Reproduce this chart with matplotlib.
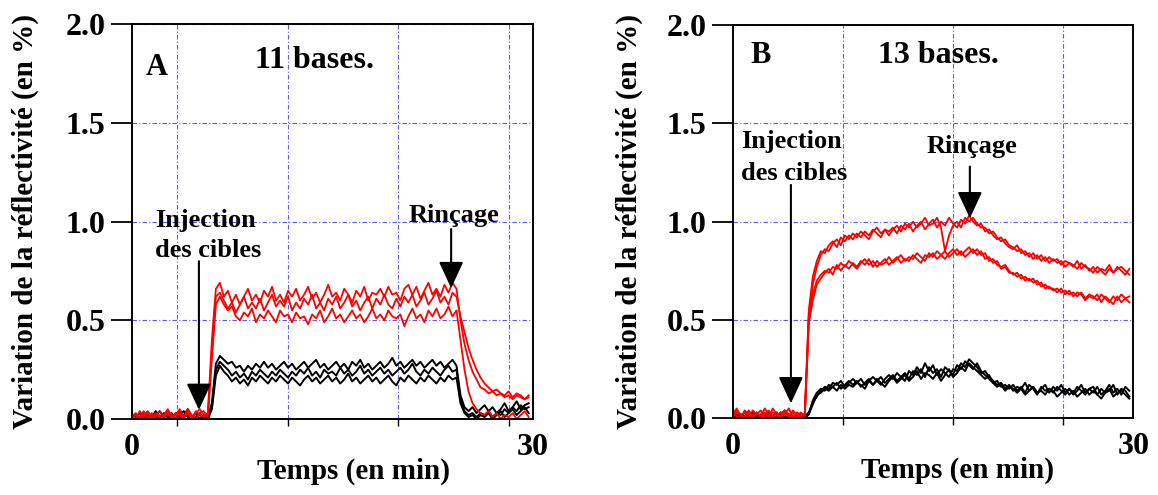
import numpy as np
import matplotlib
matplotlib.use("Agg")
import matplotlib.pyplot as plt

plt.rcParams['font.family'] = ['Liberation Serif', 'DejaVu Serif']
plt.rcParams['font.weight'] = 'bold'

# sampling time of the traces (min), one value every 0.3 min
time_a = np.arange(100) * 0.3
time_b = np.arange(100) * 0.3

# Panel A (11 bases) - red = complementary targets, black = non complementary
a_red_1 = [0.01, 0.03, 0.00, 0.02, 0.04, 0.01, 0.03, 0.00, 0.02, 0.05, 0.01, 0.03, 0.02, 0.00, 0.04, 0.01, 0.03, 0.05, 0.02,
           0.03, 0.40, 0.66, 0.69,
           0.62, 0.65, 0.59, 0.63, 0.58, 0.62, 0.66, 0.60, 0.63, 0.59,
           0.65, 0.62, 0.67, 0.60, 0.63, 0.59, 0.65, 0.62, 0.66, 0.60,
           0.63, 0.67, 0.61, 0.64, 0.59, 0.63, 0.68, 0.62, 0.64, 0.60,
           0.66, 0.63, 0.59, 0.65, 0.62, 0.67, 0.60, 0.64, 0.63, 0.66,
           0.62, 0.67, 0.63, 0.64, 0.60, 0.66, 0.68, 0.63, 0.67, 0.61,
           0.65, 0.69, 0.63, 0.66, 0.62, 0.68, 0.64, 0.69,
           0.66, 0.50, 0.38, 0.30, 0.24, 0.20, 0.16, 0.15, 0.13, 0.14, 0.12, 0.13, 0.11, 0.12, 0.10, 0.12, 0.11, 0.10, 0.12]
a_red_2 = [0.02, 0.00, 0.04, 0.01, 0.03, 0.00, 0.02, 0.04, 0.01, 0.03, 0.00, 0.02, 0.05, 0.01, 0.03, 0.00, 0.04, 0.02, 0.01,
           0.02, 0.35, 0.62, 0.64,
           0.60, 0.56, 0.59, 0.54, 0.58, 0.62, 0.56, 0.59, 0.56, 0.61,
           0.55, 0.59, 0.63, 0.57, 0.60, 0.57, 0.62, 0.55, 0.59, 0.56,
           0.61, 0.58, 0.63, 0.56, 0.59, 0.55, 0.61, 0.58, 0.62, 0.56,
           0.59, 0.63, 0.57, 0.60, 0.55, 0.59, 0.62, 0.56, 0.61, 0.58,
           0.63, 0.58, 0.56, 0.61, 0.57, 0.62, 0.59, 0.63, 0.57, 0.60,
           0.64, 0.58, 0.61, 0.65, 0.59, 0.62, 0.58, 0.64,
           0.62, 0.52, 0.44, 0.36, 0.30, 0.25, 0.21, 0.18, 0.16, 0.14, 0.15, 0.13, 0.12, 0.14, 0.11, 0.13, 0.12, 0.10, 0.11]
a_red_3 = [0.00, 0.02, 0.01, 0.04, 0.00, 0.03, 0.01, 0.02, 0.00, 0.04, 0.02, 0.00, 0.03, 0.01, 0.05, 0.02, 0.00, 0.03, 0.04,
           0.01, 0.30, 0.58, 0.62,
           0.58, 0.55, 0.57, 0.52, 0.50, 0.54, 0.52, 0.56, 0.49, 0.53,
           0.51, 0.55, 0.52, 0.49, 0.55, 0.52, 0.53, 0.49, 0.54, 0.51,
           0.52, 0.48, 0.53, 0.51, 0.55, 0.49, 0.52, 0.56, 0.51, 0.53,
           0.49, 0.52, 0.55, 0.51, 0.53, 0.49, 0.52, 0.56, 0.51, 0.53,
           0.50, 0.55, 0.52, 0.51, 0.53, 0.47, 0.52, 0.56, 0.51, 0.53,
           0.49, 0.55, 0.52, 0.56, 0.51, 0.53, 0.57, 0.52,
           0.55, 0.40, 0.25, 0.14, 0.08, 0.05, 0.03, 0.02, 0.04, 0.01, 0.03, 0.00, 0.02, 0.01, 0.03, 0.00, 0.02, 0.04, 0.01]
a_black_1 = [0.01, 0.02, 0.00, 0.03, 0.01, 0.00, 0.02, 0.04, 0.01, 0.02, 0.00, 0.03, 0.01, 0.02, 0.05, 0.01, 0.03, 0.00, 0.02,
             0.01, 0.08, 0.28, 0.32,
             0.30, 0.28, 0.29, 0.26, 0.27, 0.24, 0.27, 0.25, 0.28, 0.26,
             0.29, 0.26, 0.28, 0.25, 0.27, 0.29, 0.26, 0.28, 0.25, 0.27,
             0.29, 0.26, 0.28, 0.30, 0.26, 0.28, 0.25, 0.27, 0.29, 0.26,
             0.28, 0.25, 0.29, 0.27, 0.30, 0.26, 0.28, 0.25, 0.27, 0.29,
             0.26, 0.28, 0.31, 0.27, 0.29, 0.26, 0.28, 0.30, 0.27, 0.29,
             0.26, 0.28, 0.30, 0.27, 0.29, 0.26, 0.28, 0.30,
             0.27, 0.12, 0.06, 0.04, 0.06, 0.03, 0.05, 0.07, 0.04, 0.06, 0.03, 0.05, 0.08, 0.04, 0.06, 0.09, 0.05, 0.07, 0.08]
a_black_2 = [0.00, 0.01, 0.03, 0.00, 0.02, 0.01, 0.04, 0.00, 0.02, 0.01, 0.03, 0.00, 0.02, 0.04, 0.01, 0.00, 0.03, 0.02, 0.01,
             0.00, 0.06, 0.25, 0.29,
             0.27, 0.25, 0.22, 0.24, 0.21, 0.23, 0.20, 0.24, 0.22, 0.25,
             0.23, 0.21, 0.24, 0.22, 0.25, 0.23, 0.21, 0.24, 0.22, 0.25,
             0.23, 0.26, 0.22, 0.24, 0.21, 0.25, 0.23, 0.24, 0.22, 0.26,
             0.23, 0.25, 0.22, 0.24, 0.27, 0.23, 0.25, 0.22, 0.24, 0.26,
             0.23, 0.25, 0.22, 0.24, 0.26, 0.23, 0.25, 0.28, 0.24, 0.22,
             0.25, 0.23, 0.26, 0.24, 0.22, 0.25, 0.27, 0.24,
             0.25, 0.10, 0.04, 0.02, 0.03, 0.01, 0.03, 0.02, 0.04, 0.01, 0.03, 0.02, 0.05, 0.03, 0.06, 0.04, 0.07, 0.05, 0.06]
a_black_3 = [0.02, 0.00, 0.01, 0.03, 0.00, 0.02, 0.01, 0.00, 0.03, 0.01, 0.02, 0.00, 0.04, 0.01, 0.02, 0.00, 0.01, 0.03, 0.00,
             0.00, 0.05, 0.22, 0.27,
             0.24, 0.22, 0.19, 0.21, 0.18, 0.20, 0.17, 0.21, 0.19, 0.22,
             0.20, 0.18, 0.21, 0.19, 0.22, 0.20, 0.18, 0.21, 0.19, 0.17,
             0.20, 0.22, 0.19, 0.21, 0.18, 0.20, 0.22, 0.19, 0.21, 0.18,
             0.20, 0.23, 0.19, 0.21, 0.18, 0.20, 0.22, 0.19, 0.21, 0.18,
             0.20, 0.22, 0.19, 0.17, 0.21, 0.19, 0.22, 0.20, 0.18, 0.21,
             0.19, 0.22, 0.20, 0.18, 0.21, 0.19, 0.22, 0.20,
             0.21, 0.08, 0.03, 0.01, 0.02, 0.00, 0.02, 0.01, 0.03, 0.00, 0.02, 0.04, 0.01, 0.03, 0.05, 0.02, 0.04, 0.06, 0.03]

# Panel B (13 bases)
b_red_1 = [0.02, 0.05, 0.01, 0.03, 0.00, 0.04, 0.02, 0.01, 0.03, 0.00, 0.05, 0.02, 0.01, 0.03, 0.00, 0.04, 0.02, 0.01,
           0.02, 0.55,
           0.72, 0.80, 0.85, 0.84, 0.88, 0.90, 0.87, 0.92, 0.90, 0.93,
           0.91, 0.94, 0.92, 0.95, 0.93, 0.96, 0.94, 0.92, 0.96, 0.95,
           0.97, 0.94, 0.98, 0.96, 0.99, 0.95, 0.98, 1.00, 0.96, 0.99,
           1.01, 0.97, 1.00, 0.98, 1.02, 0.99, 0.97, 1.01, 0.99, 1.03,
           1.00, 0.98, 0.99, 0.95, 0.96, 0.93, 0.91, 0.92, 0.89, 0.87,
           0.86, 0.88, 0.84, 0.85, 0.82, 0.84, 0.81, 0.83, 0.80, 0.82,
           0.80, 0.81, 0.78, 0.80, 0.79, 0.77, 0.80, 0.76, 0.78, 0.75,
           0.77, 0.74, 0.76, 0.75, 0.78, 0.74, 0.76, 0.77, 0.75, 0.73]
b_red_2 = [0.00, 0.03, 0.02, 0.00, 0.04, 0.01, 0.03, 0.00, 0.02, 0.04, 0.01, 0.00, 0.03, 0.02, 0.05, 0.01, 0.00, 0.03,
           0.01, 0.50,
           0.68, 0.77, 0.83, 0.86, 0.85, 0.89, 0.91, 0.88, 0.93, 0.91,
           0.94, 0.92, 0.95, 0.93, 0.91, 0.95, 0.97, 0.94, 0.96, 0.93,
           0.96, 0.98, 0.95, 0.99, 0.97, 1.00, 0.97, 0.99, 1.02, 0.98,
           0.99, 1.02, 0.97, 0.85, 0.93, 0.98, 1.00, 0.97, 1.02, 1.00,
           1.02, 0.99, 0.97, 0.97, 0.94, 0.95, 0.92, 0.90, 0.91, 0.88,
           0.87, 0.85, 0.86, 0.83, 0.84, 0.81, 0.83, 0.80, 0.82, 0.79,
           0.81, 0.79, 0.80, 0.77, 0.79, 0.78, 0.76, 0.79, 0.77, 0.76,
           0.74, 0.77, 0.75, 0.73, 0.76, 0.74, 0.77, 0.75, 0.73, 0.76]
b_red_3 = [0.03, 0.01, 0.00, 0.04, 0.02, 0.00, 0.03, 0.01, 0.05, 0.02, 0.00, 0.03, 0.01, 0.04, 0.02, 0.00, 0.03, 0.02,
           0.02, 0.52,
           0.63, 0.70, 0.73, 0.75, 0.74, 0.77, 0.76, 0.79, 0.77, 0.80,
           0.78, 0.76, 0.79, 0.81, 0.78, 0.80, 0.77, 0.79, 0.81, 0.78,
           0.80, 0.82, 0.79, 0.81, 0.80, 0.83, 0.81, 0.79, 0.83, 0.82,
           0.84, 0.81, 0.83, 0.85, 0.82, 0.84, 0.86, 0.83, 0.85, 0.87,
           0.84, 0.86, 0.83, 0.84, 0.80, 0.81, 0.78, 0.77, 0.78, 0.75,
           0.73, 0.74, 0.71, 0.72, 0.70, 0.71, 0.68, 0.69, 0.66, 0.67,
           0.65, 0.66, 0.64, 0.65, 0.63, 0.64, 0.62, 0.64, 0.61, 0.63,
           0.62, 0.60, 0.63, 0.61, 0.59, 0.62, 0.60, 0.63, 0.61, 0.59]
b_red_4 = [0.01, 0.04, 0.02, 0.00, 0.03, 0.01, 0.02, 0.04, 0.00, 0.01, 0.03, 0.02, 0.00, 0.04, 0.01, 0.03, 0.00, 0.02,
           0.01, 0.48,
           0.60, 0.68, 0.71, 0.74, 0.76, 0.73, 0.78, 0.75, 0.78, 0.76,
           0.79, 0.77, 0.80, 0.78, 0.81, 0.77, 0.80, 0.78, 0.79, 0.82,
           0.79, 0.81, 0.83, 0.80, 0.82, 0.81, 0.84, 0.82, 0.80, 0.84,
           0.82, 0.85, 0.83, 0.81, 0.84, 0.86, 0.83, 0.85, 0.82, 0.84,
           0.86, 0.83, 0.85, 0.81, 0.82, 0.79, 0.80, 0.76, 0.77, 0.74,
           0.74, 0.72, 0.73, 0.70, 0.71, 0.69, 0.70, 0.67, 0.68, 0.66,
           0.66, 0.64, 0.66, 0.63, 0.65, 0.62, 0.64, 0.63, 0.60, 0.62,
           0.61, 0.63, 0.59, 0.62, 0.60, 0.58, 0.62, 0.59, 0.61, 0.62]
b_black_1 = [0.01, 0.00, 0.02, 0.01, 0.03, 0.00, 0.01, 0.02, 0.00, 0.03, 0.01, 0.00, 0.02, 0.04, 0.01, 0.00, 0.02, 0.01,
             0.00, 0.02,
             0.09, 0.13, 0.15, 0.14, 0.17, 0.16, 0.18, 0.15, 0.17, 0.19,
             0.17, 0.19, 0.16, 0.18, 0.20, 0.17, 0.19, 0.21, 0.18, 0.20,
             0.22, 0.19, 0.21, 0.23, 0.20, 0.24, 0.22, 0.25, 0.21, 0.26,
             0.23, 0.25, 0.21, 0.26, 0.24, 0.22, 0.27, 0.25, 0.29, 0.27,
             0.25, 0.28, 0.24, 0.22, 0.20, 0.18, 0.19, 0.16, 0.17, 0.15,
             0.17, 0.14, 0.16, 0.13, 0.17, 0.15, 0.12, 0.16, 0.14, 0.15,
             0.13, 0.16, 0.14, 0.12, 0.15, 0.13, 0.16, 0.14, 0.12, 0.15,
             0.13, 0.16, 0.12, 0.14, 0.17, 0.13, 0.15, 0.12, 0.16, 0.14]
b_black_2 = [0.00, 0.02, 0.01, 0.00, 0.01, 0.03, 0.00, 0.01, 0.02, 0.00, 0.01, 0.03, 0.00, 0.01, 0.02, 0.00, 0.01, 0.00,
             0.01, 0.03,
             0.08, 0.11, 0.14, 0.16, 0.15, 0.18, 0.17, 0.19, 0.16, 0.18,
             0.20, 0.18, 0.20, 0.17, 0.19, 0.21, 0.19, 0.17, 0.20, 0.22,
             0.20, 0.23, 0.21, 0.19, 0.24, 0.22, 0.26, 0.23, 0.28, 0.24,
             0.27, 0.22, 0.25, 0.23, 0.21, 0.25, 0.24, 0.28, 0.26, 0.30,
             0.28, 0.26, 0.23, 0.24, 0.21, 0.19, 0.17, 0.18, 0.15, 0.17,
             0.14, 0.16, 0.15, 0.18, 0.14, 0.16, 0.13, 0.15, 0.17, 0.13,
             0.16, 0.14, 0.17, 0.13, 0.15, 0.12, 0.14, 0.17, 0.13, 0.15,
             0.16, 0.12, 0.15, 0.13, 0.14, 0.17, 0.12, 0.15, 0.14, 0.11]
b_black_3 = [0.02, 0.00, 0.01, 0.03, 0.00, 0.02, 0.01, 0.00, 0.01, 0.02, 0.00, 0.01, 0.03, 0.00, 0.02, 0.01, 0.00, 0.01,
             0.00, 0.02,
             0.07, 0.12, 0.13, 0.15, 0.14, 0.16, 0.14, 0.17, 0.15, 0.17,
             0.16, 0.18, 0.17, 0.15, 0.19, 0.17, 0.20, 0.18, 0.16, 0.19,
             0.21, 0.18, 0.20, 0.22, 0.19, 0.21, 0.24, 0.20, 0.23, 0.22,
             0.20, 0.23, 0.19, 0.22, 0.25, 0.21, 0.23, 0.26, 0.24, 0.28,
             0.26, 0.24, 0.22, 0.20, 0.22, 0.18, 0.16, 0.17, 0.14, 0.16,
             0.15, 0.13, 0.15, 0.12, 0.14, 0.16, 0.13, 0.14, 0.12, 0.15,
             0.14, 0.11, 0.13, 0.15, 0.12, 0.14, 0.11, 0.13, 0.15, 0.12,
             0.14, 0.12, 0.10, 0.13, 0.15, 0.11, 0.13, 0.14, 0.12, 0.10]

y_ticks = [0.0, 0.5, 1.0, 1.5, 2.0]
y_ticklabels = ['0.0', '0.5', '1.0', '1.5', '2.0']
grid_a = [3.4, 11.67, 19.9, 28.2]
grid_b = [8.28, 16.5, 24.7]

GRID_COLOR = '#5a5aff'


def style_axes(ax, xgrid):
    ax.set_xlim(0, 30)
    ax.set_ylim(0, 2.0)
    ax.set_yticks(y_ticks)
    ax.set_yticklabels(y_ticklabels)
    ax.set_xticks([0, 30])
    ax.set_xticklabels(['0', '30'])
    ax.set_xticks(xgrid, minor=True)
    ax.tick_params(axis='y', direction='out', length=15, width=1.3, pad=4, labelsize=23)
    ax.tick_params(axis='x', which='major', length=0, pad=10, labelsize=23)
    ax.tick_params(axis='x', which='minor', direction='out', length=5, width=1.0)
    ax.grid(True, axis='y', which='major', color=GRID_COLOR, lw=0.8, ls=(0, (4, 2, 1, 2)))
    ax.grid(True, axis='x', which='minor', color=GRID_COLOR, lw=0.8, ls=(0, (4, 2, 1, 2)))
    for sp in ax.spines.values():
        sp.set_linewidth(1.4)
    ax.set_xlabel('Temps (en min)', fontsize=21, fontweight='bold')
    ax.set_ylabel('Variation de la réflectivité (en %)', fontsize=21, fontweight='bold')


def arrow(ax, x, y_top, y_tip):
    ax.annotate('', xy=(x, y_tip), xytext=(x, y_top),
                arrowprops=dict(arrowstyle='-|>,head_length=0.82,head_width=0.38',
                                mutation_scale=20, color='black', lw=1.5,
                                shrinkA=0, shrinkB=0))


fig = plt.figure(figsize=(11.58, 4.95), dpi=100)
ax_a = fig.add_axes([0.1137, 0.1535, 0.3463, 0.7974])
ax_b = fig.add_axes([0.6327, 0.155, 0.346, 0.7945])

# Panel A
for tr in [a_black_1, a_black_2, a_black_3]:
    ax_a.plot(time_a, tr, color='black', lw=1.4)
for tr in [a_red_1, a_red_2, a_red_3]:
    ax_a.plot(time_a, tr, color='red', lw=1.3)
style_axes(ax_a, grid_a)
ax_a.xaxis.set_label_coords(0.552, -0.097)
ax_a.yaxis.set_label_coords(-0.23, 0.5)
ax_a.text(1.07, 1.745, 'A', fontsize=22, fontweight='bold', ha='left', va='baseline')
ax_a.text(9.22, 1.777, '11 bases.', fontsize=23, fontweight='bold', ha='left', va='baseline')
ax_a.text(1.74, 0.972, 'Injection', fontsize=19, fontweight='bold', ha='left', va='baseline')
ax_a.text(1.74, 0.822, 'des cibles', fontsize=19, fontweight='bold', ha='left', va='baseline')
arrow(ax_a, 5.03, 0.80, 0.046)
ax_a.text(24.1, 0.997, 'Rinçage', fontsize=19, fontweight='bold', ha='center', va='baseline')
arrow(ax_a, 23.9, 0.962, 0.663)

# Panel B
for tr in [b_black_1, b_black_2, b_black_3]:
    ax_b.plot(time_b, tr, color='black', lw=1.4)
for tr in [b_red_1, b_red_2, b_red_3, b_red_4]:
    ax_b.plot(time_b, tr, color='red', lw=1.3)
style_axes(ax_b, grid_b)
ax_b.xaxis.set_label_coords(0.56, -0.097)
ax_b.yaxis.set_label_coords(-0.224, 0.5)
ax_b.text(1.3, 1.807, 'B', fontsize=22, fontweight='bold', ha='left', va='baseline')
ax_b.text(10.85, 1.807, '13 bases.', fontsize=23, fontweight='bold', ha='left', va='baseline')
ax_b.text(0.6, 1.375, 'Injection', fontsize=19, fontweight='bold', ha='left', va='baseline')
ax_b.text(0.6, 1.212, 'des cibles', fontsize=19, fontweight='bold', ha='left', va='baseline')
arrow(ax_b, 4.36, 1.187, 0.076)
ax_b.text(17.95, 1.35, 'Rinçage', fontsize=19, fontweight='bold', ha='center', va='baseline')
arrow(ax_b, 17.76, 1.28, 1.017)

fig.savefig('out.png', dpi=100)
